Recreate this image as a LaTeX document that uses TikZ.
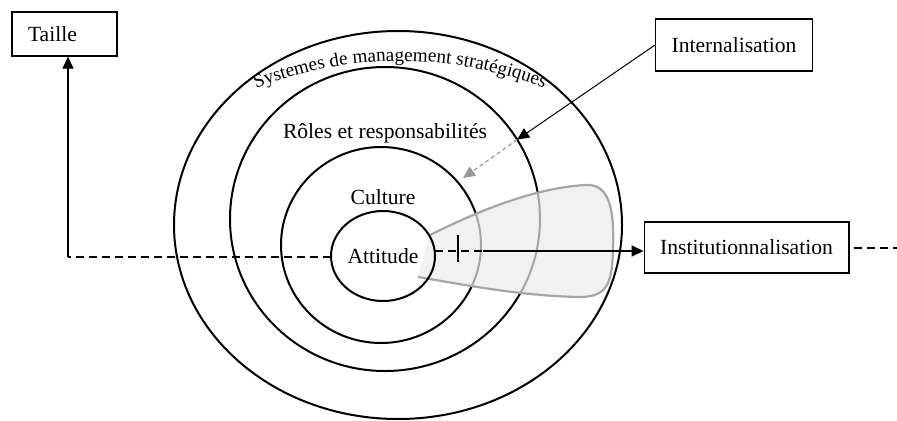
\documentclass[tikz,border=0pt]{standalone}
\usepackage{fontspec}
\setmainfont{Liberation Serif}
\usetikzlibrary{shapes.geometric,arrows.meta,decorations.text}
\newcommand\arcfont{\fontsize{9.6pt}{11pt}\selectfont}

\begin{document}
\begin{tikzpicture}[x=0.5pt,y=0.5pt,
    font=\fontsize{10.8pt}{13pt}\selectfont,
    ring/.style={draw,ellipse,line width=1pt,inner sep=0pt,outer sep=0pt},
    textbox/.style={draw,line width=0.6pt,inner xsep=8pt,inner ysep=0pt,align=left},
    brokenline/.style={line width=1pt,dash pattern=on 4pt off 2.5pt},
    pointer/.style={-{Triangle[length=6pt,width=5.5pt]}}]
\useasboundingbox (0,0) rectangle (897,420);
% the rings
\node[ring,minimum width=224pt,minimum height=194pt] (sms) at (398,195) {};
\node[ring,minimum width=155pt,minimum height=152pt] (roles) at (385,201) {};
\node[ring,minimum width=100pt,minimum height=98pt] (culture) at (381,175) {};
\path[decorate,decoration={text along path,text align=center,
    text={|\arcfont|Systemes de management stratégiques}}]
    (400,-33) ++(114:392) arc[start angle=114,end angle=66,radius=392];
\node (roleslabel) at (385,287) {Rôles et responsabilités};
\node (culturelabel) at (383,223) {Culture};
% the grey tongue
\fill[black!8,fill opacity=0.7] (430,185) .. controls (480,210) and (535,232) .. (585,235)
    .. controls (612,237) and (614,205) .. (613,170) .. controls (612,138) and (608,123) .. (580,123)
    .. controls (520,124) and (460,136) .. (418,143) -- cycle;
\draw[black!35,line width=1.1pt] (430,185) .. controls (480,210) and (535,232) .. (585,235)
    .. controls (612,237) and (614,205) .. (613,170) .. controls (612,138) and (608,123) .. (580,123)
    .. controls (520,124) and (460,136) .. (418,143);
\node[ring,minimum width=52pt,minimum height=45pt] (attitude) at (383,164) {Attitude};
% the boxes
\node[textbox,text width=36.5pt,minimum height=22pt] (taille) at (64.5,386) {Taille};
\node[textbox,minimum height=26pt] (internalisation) at (734,375) {Internalisation};
\node[textbox,minimum height=25.5pt] (institution) at (746.5,172.5) {Institutionnalisation};
% the links
\coordinate (corner) at (68,163);
\coordinate (split) at (483,169);
\coordinate (far) at (897,172.5);
\coordinate (inner) at (463,242);
\draw[brokenline] (corner -| attitude.west) -- (corner);
\draw[pointer,line width=0.6pt] (corner) -- (corner |- taille.south);
\draw[brokenline] (split -| attitude.east) -- (split);
\draw[pointer,line width=1pt] (split) -- (split -| institution.west);
\draw[line width=0.6pt] (458,158) -- (458,185);
\draw[brokenline] ([xshift=2pt]institution.east) -- (far);
\draw[pointer,line width=0.5pt] (internalisation.west) -- (roles.31);
\draw[pointer,black!40,line width=0.6pt,dash pattern=on 2pt off 1.5pt] (roles.31) -- (inner);
\end{tikzpicture}
\end{document}
